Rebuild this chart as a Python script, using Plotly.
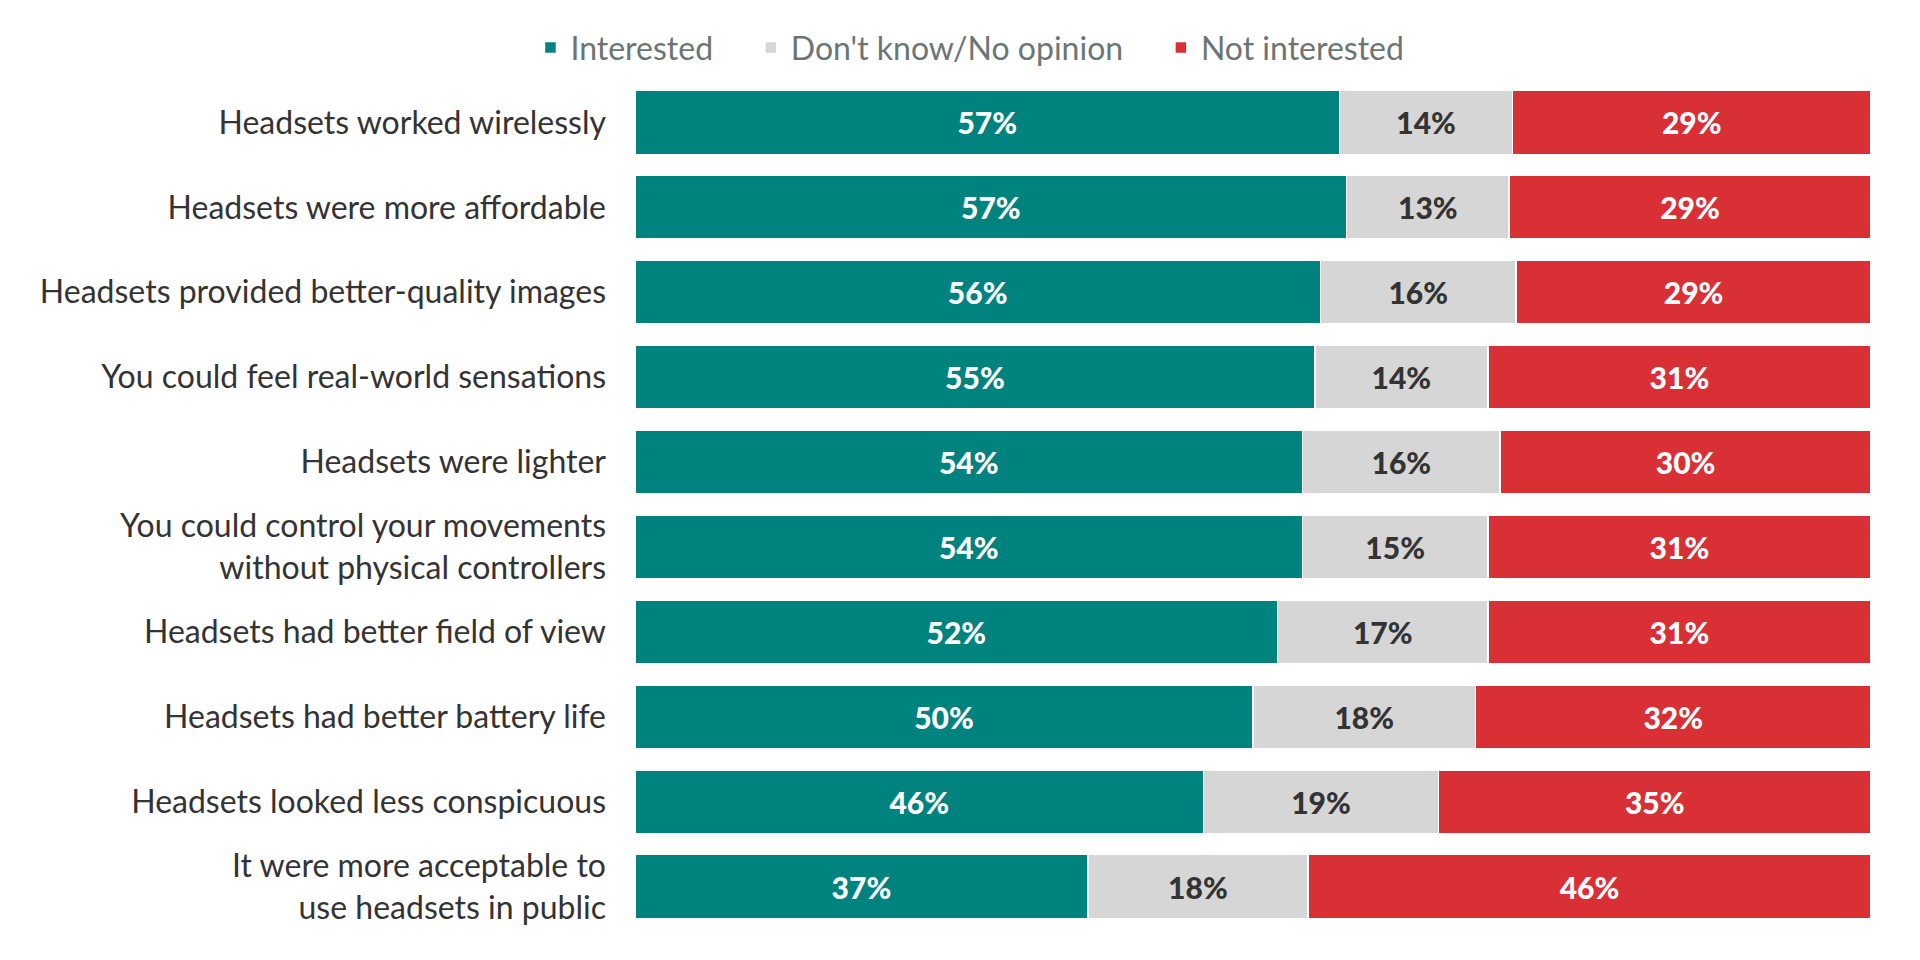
import plotly.graph_objects as go

categories = [
    "Headsets worked wirelessly",
    "Headsets were more affordable",
    "Headsets provided better-quality images",
    "You could feel real-world sensations",
    "Headsets were lighter",
    "You could control your movements<br>without physical controllers",
    "Headsets had better field of view",
    "Headsets had better battery life",
    "Headsets looked less conspicuous",
    "It were more acceptable to<br>use headsets in public",
]
interested = [57, 57, 56, 55, 54, 54, 52, 50, 46, 37]
dont_know = [14, 13, 16, 14, 16, 15, 17, 18, 19, 18]
not_interested = [29, 29, 29, 31, 30, 31, 31, 32, 35, 46]
series_names = ["Interested", "Don't know/No opinion", "Not interested"]

pad = "\u00a0" * 4
series = [
    (series_names[0] + pad, interested, "#00827f", "white"),
    (series_names[1] + pad, dont_know, "#d6d6d6", "#333333"),
    (series_names[2], not_interested, "#d83035", "white"),
]

fig = go.Figure()
for name, vals, color, tcolor in series:
    fig.add_trace(go.Bar(
        name=name, y=categories, x=vals, orientation="h",
        marker=dict(color=color, line=dict(color="white", width=1.5)),
        text=[f"{v}%" for v in vals], textposition="inside",
        insidetextanchor="middle",
        textfont=dict(family="Lato", size=30, color=tcolor, weight=900),
        hoverinfo="skip",
    ))

fig.update_layout(
    barmode="stack", barnorm="percent", bargap=0.25,
    width=1920, height=960,
    paper_bgcolor="white", plot_bgcolor="white",
    margin=dict(l=627, r=57, t=72, b=39),
    font=dict(family="Lato", color="#333333"),
    legend=dict(orientation="h", x=0.271, xanchor="center", y=1.038, yanchor="middle",
                font=dict(size=32, color="#6b7573"), traceorder="normal",
                bgcolor="rgba(0,0,0,0)"),
    xaxis=dict(visible=False, range=[0, 100], fixedrange=True),
    yaxis=dict(autorange="reversed", showgrid=False, zeroline=False, showline=False,
               ticks="", tickfont=dict(size=32, color="#333333"), ticklabelstandoff=28),
)

fig.write_html("out.html")
